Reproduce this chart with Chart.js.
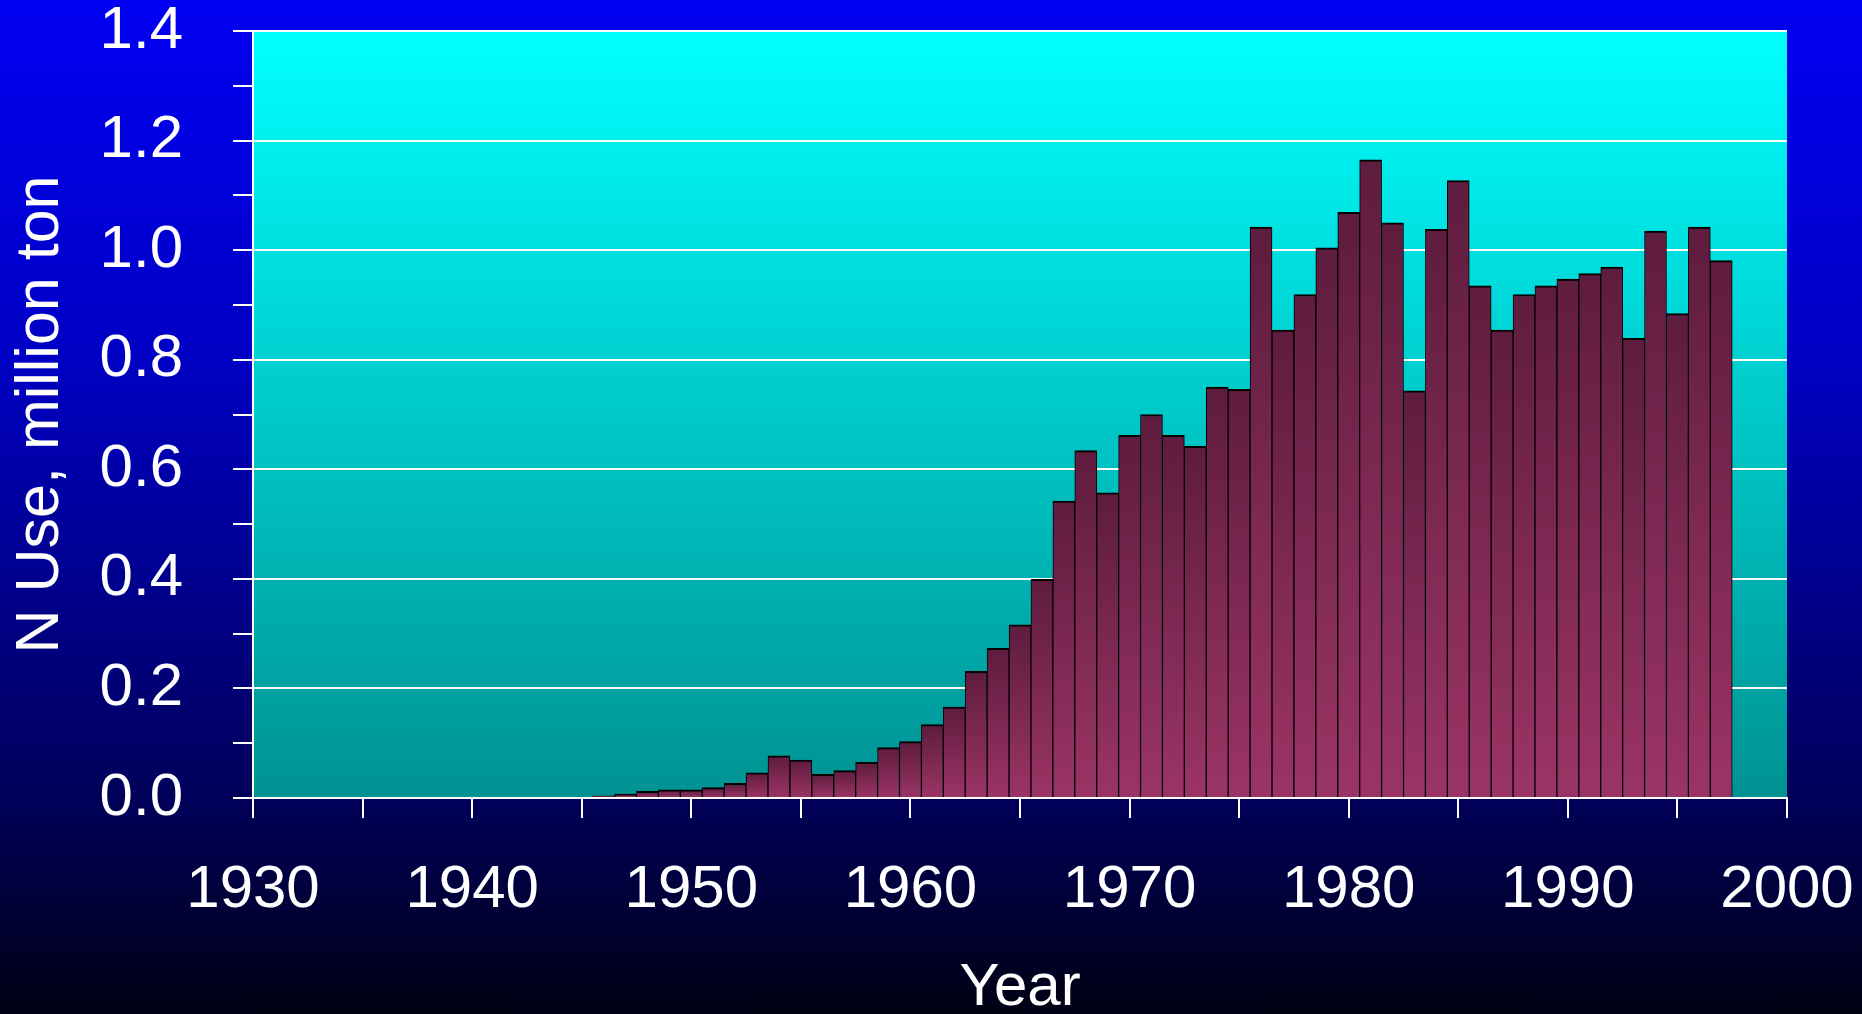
<!DOCTYPE html>
<html>
<head>
<meta charset="utf-8">
<title>N Use, million ton</title>
<script src="https://cdn.jsdelivr.net/npm/chart.js@4.4.0/dist/chart.umd.min.js"></script>
<style>
  html, body { margin: 0; padding: 0; }
  body {
    width: 1862px;
    height: 1014px;
    overflow: hidden;
    background: linear-gradient(to bottom, #0000f2 0%, #0000c4 35%, #000082 62%, #000056 80%, #000012 100%);
  }
  canvas { display: block; }
</style>
</head>
<body>
<canvas id="nChart" width="1862" height="1014"></canvas>
<script>
// N use per year, million ton
const years = [
  1946, 1947, 1948, 1949, 1950, 1951, 1952, 1953, 1954, 1955,
  1956, 1957, 1958, 1959, 1960, 1961, 1962, 1963, 1964, 1965,
  1966, 1967, 1968, 1969, 1970, 1971, 1972, 1973, 1974, 1975,
  1976, 1977, 1978, 1979, 1980, 1981, 1982, 1983, 1984, 1985,
  1986, 1987, 1988, 1989, 1990, 1991, 1992, 1993, 1994, 1995,
  1996, 1997
];
const nUse = [
  0.004, 0.007, 0.012, 0.015, 0.015, 0.019, 0.027, 0.046, 0.077, 0.069,
  0.043, 0.050, 0.065, 0.092, 0.103, 0.134, 0.166, 0.231, 0.273, 0.316,
  0.399, 0.542, 0.634, 0.557, 0.662, 0.700, 0.662, 0.642, 0.750, 0.746,
  1.042, 0.854, 0.919, 1.004, 1.069, 1.165, 1.050, 0.743, 1.038, 1.127,
  0.935, 0.854, 0.919, 0.935, 0.947, 0.957, 0.969, 0.839, 1.035, 0.884,
  1.042, 0.981
];

// axis ticks
const xMajorTicks = [1930, 1940, 1950, 1960, 1970, 1980, 1990, 2000];
const xMinorTicks = [1935, 1945, 1955, 1965, 1975, 1985, 1995];
const xTickLabels = ['1930', '1940', '1950', '1960', '1970', '1980', '1990', '2000'];
const yMajorTicks = [0, 0.2, 0.4, 0.6, 0.8, 1.0, 1.2, 1.4];
const yMinorTicks = [0.1, 0.3, 0.5, 0.7, 0.9, 1.1, 1.3];
const yTickLabels = ['0.0', '0.2', '0.4', '0.6', '0.8', '1.0', '1.2', '1.4'];

const FONT = 'Liberation Sans, Arial, sans-serif';

const xAllTicks = xMajorTicks.concat(xMinorTicks).sort((a, b) => a - b);
const yAllTicks = yMajorTicks.concat(yMinorTicks).sort((a, b) => a - b);

// cyan plot area fading to teal
const plotBackground = {
    id: 'plotBackground',
    beforeDraw(chart) {
        const { ctx, chartArea: a } = chart;
        const g = ctx.createLinearGradient(0, a.top, 0, a.bottom);
        g.addColorStop(0, '#00ffff');
        g.addColorStop(1, '#009292');
        ctx.save();
        ctx.fillStyle = g;
        ctx.fillRect(a.left, a.top, a.right - a.left, a.bottom - a.top);
        ctx.restore();
    }
};

// each bar goes dark plum at the top to lighter magenta at the base
const barFill = (context) => {
    const chart = context.chart;
    if (!chart.chartArea || context.type !== 'data') {
        return '#7a2850';
    }
    const yScale = chart.scales.y;
    const top = yScale.getPixelForValue(context.parsed.y);
    const base = yScale.getPixelForValue(0);
    const g = chart.ctx.createLinearGradient(0, top, 0, base + 0.01);
    g.addColorStop(0, '#5e1c3e');
    g.addColorStop(1, '#9b3466');
    return g;
};

const ctx = document.getElementById('nChart').getContext('2d');

new Chart(ctx, {
    type: 'bar',
    data: {
        datasets: [{
            data: years.map((yr, i) => ({ x: yr, y: nUse[i] })),
            backgroundColor: barFill,
            borderColor: '#000000',
            borderWidth: { top: 2, left: 1, right: 1, bottom: 0 },
            borderSkipped: false,
            barPercentage: 1,
            categoryPercentage: 1
        }]
    },
    options: {
        responsive: false,
        devicePixelRatio: 1,
        animation: false,
        layout: { padding: { top: 31, right: 75, bottom: 0, left: 0 } },
        plugins: {
            legend: { display: false },
            tooltip: { enabled: false }
        },
        scales: {
            x: {
                type: 'linear',
                min: 1930,
                max: 2000,
                offset: false,
                afterBuildTicks(scale) {
                    scale.ticks = xAllTicks.map(v => ({ value: v }));
                },
                afterFit(scale) {
                    scale.height = 216;
                    scale.paddingLeft = 0;
                    scale.paddingRight = 0;
                },
                ticks: {
                    color: '#ffffff',
                    font: { family: FONT, size: 60 },
                    padding: 36,
                    maxRotation: 0,
                    autoSkip: false,
                    callback: (value) => {
                        const i = xMajorTicks.indexOf(value);
                        return i >= 0 ? xTickLabels[i] : '';
                    }
                },
                grid: {
                    offset: false,
                    drawOnChartArea: false,
                    color: '#ffffff',
                    lineWidth: 2,
                    tickLength: 20,
                    tickColor: '#ffffff',
                    tickWidth: 2
                },
                border: { color: '#ffffff', width: 2 },
                title: {
                    display: true,
                    text: 'Year',
                    color: '#ffffff',
                    font: { family: FONT, size: 60 },
                    padding: { top: 0, bottom: -10 }
                }
            },
            y: {
                min: 0,
                max: 1.4,
                afterBuildTicks(scale) {
                    scale.ticks = yAllTicks.map(v => ({ value: v }));
                },
                afterFit(scale) {
                    scale.width = 253;
                    scale.paddingTop = 0;
                    scale.paddingBottom = 0;
                },
                ticks: {
                    color: '#ffffff',
                    font: { family: FONT, size: 60 },
                    padding: 50,
                    autoSkip: false,
                    callback: (value) => {
                        const i = yMajorTicks.indexOf(value);
                        return i >= 0 ? yTickLabels[i] : '';
                    }
                },
                grid: {
                    color: (c) => yMajorTicks.includes(c.tick.value) ? '#ffffff' : 'rgba(0,0,0,0)',
                    lineWidth: 2,
                    tickLength: 20,
                    tickColor: '#ffffff',
                    tickWidth: 2
                },
                border: { color: '#ffffff', width: 2 },
                title: {
                    display: true,
                    text: 'N Use, million ton',
                    color: '#ffffff',
                    font: { family: FONT, size: 61 },
                    padding: { top: 5, bottom: 0 }
                }
            }
        }
    },
    plugins: [plotBackground]
});
</script>
</body>
</html>
